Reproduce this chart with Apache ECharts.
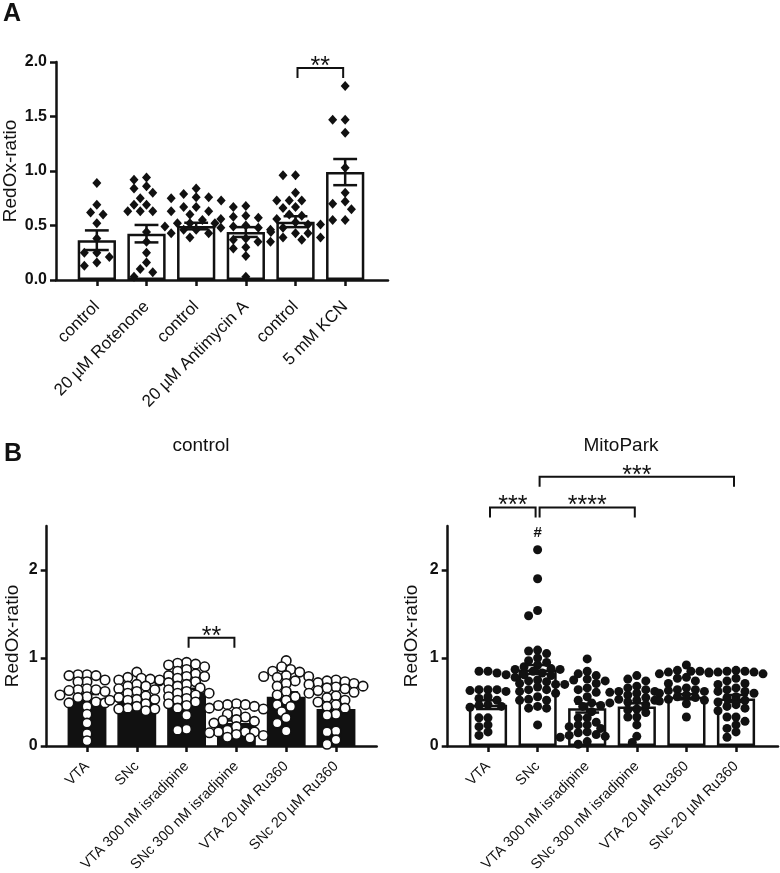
<!DOCTYPE html>
<html><head><meta charset="utf-8">
<script src="https://cdn.jsdelivr.net/npm/echarts@6/dist/echarts.min.js"></script>
<style>html,body{margin:0;padding:0;background:#fff}#c{width:780px;height:873px}</style>
</head><body><div id="c"></div>
<script>
// ---------------- DATA ----------------
const aLabels = ['control', '20 µM Rotenone', 'control', '20 µM Antimycin A', 'control', '5 mM KCN'];
const aMeans = [0.365, 0.425, 0.495, 0.44, 0.535, 0.99];
const aSem = [0.09, 0.08, 0.03, 0.045, 0.05, 0.12];
const aControl1 = [0.89, 0.69, 0.62, 0.60, 0.52, 0.38, 0.25, 0.25, 0.21, 0.16, 0.13];
const aRotenone = [0.94, 0.92, 0.86, 0.84, 0.80, 0.75, 0.69, 0.69, 0.63, 0.63, 0.63, 0.44, 0.35, 0.25, 0.16, 0.10, 0.07, 0.03];
const aControl2 = [0.84, 0.79, 0.76, 0.76, 0.75, 0.73, 0.67, 0.67, 0.63, 0.63, 0.60, 0.55, 0.52, 0.52, 0.52, 0.49, 0.46, 0.46, 0.43, 0.43, 0.39];
const aAntimycin = [0.68, 0.67, 0.59, 0.58, 0.57, 0.56, 0.50, 0.49, 0.48, 0.48, 0.44, 0.38, 0.37, 0.30, 0.29, 0.22, 0.03];
const aControl3 = [0.96, 0.96, 0.80, 0.73, 0.73, 0.73, 0.67, 0.66, 0.60, 0.59, 0.56, 0.53, 0.51, 0.51, 0.48, 0.46, 0.43, 0.43, 0.39, 0.39, 0.37, 0.35, 0.35];
const aKCN = [1.78, 1.47, 1.47, 1.35, 1.03, 0.80, 0.72, 0.70, 0.65, 0.55, 0.55];
const aYTicks = [0, 0.5, 1.0, 1.5, 2.0];
const aBrackets = [[4, 5, 1.945]];
const aBracketText = ['**'];

const bLabels = ['VTA', 'SNc', 'VTA 300 nM isradipine', 'SNc 300 nM isradipine', 'VTA 20 µM Ru360', 'SNc 20 µM Ru360'];
const bYTicks = [0, 1, 2];

const ctrlMeans = [0.54, 0.52, 0.61, 0.26, 0.56, 0.42];
const ctrlSem = [0.05, 0.03, 0.04, 0.03, 0.05, 0.05];
const ctrlVTA = [0.81, 0.81, 0.80, 0.80, 0.75, 0.73, 0.73, 0.65, 0.64, 0.64, 0.63, 0.62, 0.58, 0.56, 0.55, 0.50, 0.49, 0.49, 0.45, 0.36, 0.26, 0.14, 0.06];
const ctrlSNc = [0.84, 0.78, 0.77, 0.76, 0.75, 0.74, 0.70, 0.68, 0.68, 0.65, 0.64, 0.62, 0.60, 0.57, 0.55, 0.53, 0.53, 0.52, 0.52, 0.48, 0.45, 0.43, 0.42, 0.42, 0.40];
const ctrlVTAisr = [0.95, 0.94, 0.93, 0.92, 0.90, 0.87, 0.85, 0.82, 0.80, 0.79, 0.79, 0.77, 0.75, 0.73, 0.72, 0.70, 0.68, 0.66, 0.64, 0.62, 0.60, 0.60, 0.58, 0.56, 0.54, 0.52, 0.50, 0.48, 0.46, 0.43, 0.35, 0.19, 0.18];
const ctrlSNcisr = [0.48, 0.47, 0.47, 0.46, 0.45, 0.43, 0.42, 0.38, 0.36, 0.33, 0.30, 0.29, 0.28, 0.26, 0.22, 0.18, 0.16, 0.16, 0.16, 0.15, 0.13, 0.12, 0.10, 0.09];
const ctrlVTAru = [0.97, 0.90, 0.87, 0.85, 0.84, 0.80, 0.79, 0.79, 0.78, 0.74, 0.71, 0.68, 0.62, 0.58, 0.56, 0.52, 0.47, 0.45, 0.39, 0.32, 0.26, 0.17];
const ctrlSNcru = [0.75, 0.74, 0.73, 0.72, 0.71, 0.70, 0.68, 0.67, 0.66, 0.65, 0.63, 0.61, 0.60, 0.57, 0.55, 0.52, 0.50, 0.47, 0.45, 0.43, 0.36, 0.35, 0.17, 0.16, 0.07, 0.02];
const ctrlBrackets = [[2, 3, 1.23]];
const ctrlBracketText = ['**'];

const mpMeans = [0.47, 0.87, 0.43, 0.45, 0.56, 0.54];
const mpSem = [0.05, 0.05, 0.05, 0.035, 0.03, 0.04];
const mpVTA = [0.85, 0.85, 0.83, 0.64, 0.64, 0.64, 0.63, 0.62, 0.56, 0.54, 0.52, 0.47, 0.46, 0.45, 0.44, 0.32, 0.32, 0.24, 0.22, 0.16, 0.12];
const mpSNc = [2.23, 1.90, 1.54, 1.48, 1.09, 1.08, 1.05, 1.00, 0.97, 0.95, 0.92, 0.90, 0.88, 0.87, 0.87, 0.85, 0.83, 0.81, 0.81, 0.80, 0.78, 0.75, 0.74, 0.73, 0.71, 0.70, 0.67, 0.64, 0.64, 0.62, 0.60, 0.56, 0.53, 0.52, 0.52, 0.45, 0.43, 0.43, 0.24];
const mpVTAisr = [0.99, 0.85, 0.82, 0.80, 0.76, 0.75, 0.74, 0.71, 0.70, 0.66, 0.64, 0.61, 0.56, 0.52, 0.49, 0.46, 0.45, 0.39, 0.32, 0.32, 0.27, 0.24, 0.24, 0.22, 0.20, 0.16, 0.15, 0.13, 0.12, 0.11, 0.10, 0.05, 0.02];
const mpSNcisr = [0.80, 0.76, 0.74, 0.68, 0.66, 0.64, 0.62, 0.62, 0.61, 0.60, 0.58, 0.55, 0.53, 0.52, 0.52, 0.50, 0.49, 0.47, 0.42, 0.41, 0.38, 0.33, 0.33, 0.24, 0.11, 0.04];
const mpVTAru = [0.92, 0.86, 0.85, 0.85, 0.84, 0.84, 0.82, 0.78, 0.77, 0.74, 0.71, 0.66, 0.64, 0.64, 0.63, 0.62, 0.60, 0.58, 0.56, 0.55, 0.53, 0.52, 0.51, 0.48, 0.33];
const mpSNcru = [0.86, 0.85, 0.85, 0.84, 0.84, 0.83, 0.82, 0.77, 0.74, 0.71, 0.70, 0.66, 0.64, 0.62, 0.62, 0.60, 0.56, 0.55, 0.52, 0.50, 0.47, 0.45, 0.43, 0.40, 0.33, 0.33, 0.28, 0.24, 0.20, 0.16, 0.10];
const mpBrackets = [[0, 1, 2.71], [1, 3, 2.71], [1, 5, 3.06]];
const mpBracketText = ['***', '****', '***'];
const mpHashGroups = [1];

// ---------------- LAYOUT / STYLE ----------------
const FONT = '"Liberation Sans", Arial, Helvetica, sans-serif';
const INK = '#111';
const A_H = 218, A_MAX = 2.0;
const B_H = 220, B_MAX = 2.5;

function swarmOffsets(vals, pxPerUnit, diam, step) {
  const order = vals.map((v, i) => i).sort((p, q) => vals[q] - vals[p]);
  const placed = [];
  const off = new Array(vals.length).fill(0);
  order.forEach(i => {
    const y = vals[i] * pxPerUnit;
    for (let k = 0; k < 60; k++) {
      const m = Math.ceil(k / 2) * (k % 2 ? -1 : 1);
      const x = m * step / 2;
      if (placed.every(p => (p.x - x) * (p.x - x) + (p.y - y) * (p.y - y) >= diam * diam)) {
        placed.push({x, y}); off[i] = x; break;
      }
    }
  });
  return off;
}
function scatterData(groups, pxPerUnit, diam, step) {
  const out = [];
  groups.forEach((g, i) => {
    const off = swarmOffsets(g, pxPerUnit, diam, step);
    g.forEach((v, k) => out.push({value: [i, v], symbolOffset: [off[k], 0]}));
  });
  return out;
}
function errSeries(xi, means, sem, lw) {
  return {
    type: 'custom', xAxisIndex: xi, yAxisIndex: xi, z: 5, silent: true,
    data: means.map((m, i) => [i, m, sem[i]]), encode: {x: 0, y: 1},
    renderItem: (params, api) => {
      const i = api.value(0), m = api.value(1), s = api.value(2);
      const t = api.coord([i, m + s]), b = api.coord([i, m - s]);
      const hw = api.size([1, 0])[0] * 0.24;
      const st = {stroke: INK, lineWidth: lw};
      return {type: 'group', children: [
        {type: 'line', shape: {x1: t[0], y1: t[1], x2: b[0], y2: b[1]}, style: st},
        {type: 'line', shape: {x1: t[0] - hw, y1: t[1], x2: t[0] + hw, y2: t[1]}, style: st},
        {type: 'line', shape: {x1: b[0] - hw, y1: b[1], x2: b[0] + hw, y2: b[1]}, style: st}
      ]};
    }
  };
}
function bracketSeries(xi, brackets, texts) {
  return {
    type: 'custom', xAxisIndex: xi, yAxisIndex: xi, z: 7, clip: false, silent: true,
    data: brackets, encode: {x: [0, 1], y: 2},
    renderItem: (params, api) => {
      const a = api.coord([api.value(0), api.value(2)]);
      const b = api.coord([api.value(1), api.value(2)]);
      const x1 = a[0] + 2, x2 = b[0] - 2, y = a[1];
      return {type: 'group', children: [
        {type: 'polyline', shape: {points: [[x1, y + 10], [x1, y], [x2, y], [x2, y + 10]]},
          style: {stroke: INK, lineWidth: 2, fill: null}},
        {type: 'text', style: {text: texts[params.dataIndex], x: (x1 + x2) / 2, y: y - 1,
          align: 'center', verticalAlign: 'middle', fontSize: 25, fontFamily: FONT, fill: INK}}
      ]};
    }
  };
}
function hashSeries(xi, groupIdx, groups) {
  return {
    type: 'custom', xAxisIndex: xi, yAxisIndex: xi, z: 7, clip: false, silent: true,
    data: groupIdx.map(i => [i, Math.max(...groups[i])]), encode: {x: 0, y: 1},
    renderItem: (params, api) => {
      const p = api.coord([api.value(0), api.value(1)]);
      return {type: 'text', style: {text: '#', x: p[0], y: p[1] - 17, align: 'center', verticalAlign: 'middle',
        fontSize: 15, fontWeight: 'bold', fontFamily: FONT, fill: INK}};
    }
  };
}
const lineSt = {color: INK, width: 2.5};
function frameX(gi) {
  return {gridIndex: gi, type: 'value', min: 0, max: 1, axisLine: {show: true, onZero: false, lineStyle: lineSt},
    axisTick: {show: false}, axisLabel: {show: false}, splitLine: {show: false}};
}
function catX(gi, labels, rotate, fontSize, margin) {
  return {gridIndex: gi, type: 'category', data: labels.map((l, i) => 'c' + i),
    axisLine: {show: false}, axisTick: {show: true, alignWithLabel: true, length: 6, lineStyle: lineSt},
    axisLabel: {interval: 0, rotate: rotate, margin: margin, fontSize: fontSize, color: INK,
      fontFamily: FONT, formatter: (v, i) => labels[i]}};
}
function frameY(gi, max, ticks, fmt, fontSize, nameGap) {
  return {gridIndex: gi, type: 'value', min: 0, max: max,
    axisLine: {show: true, onZero: false, lineStyle: lineSt},
    axisTick: {show: true, length: 6, lineStyle: lineSt, customValues: ticks},
    axisLabel: {fontSize: fontSize, fontWeight: 'bold', color: INK, fontFamily: FONT, margin: 9,
      customValues: ticks, formatter: fmt},
    splitLine: {show: false},
    name: 'RedOx-ratio', nameLocation: 'middle', nameGap: nameGap,
    nameTextStyle: {fontSize: 19, color: INK, fontFamily: FONT}};
}
function hiddenY(gi, max) { return {gridIndex: gi, type: 'value', min: 0, max: max, show: false}; }
function grid(left, top, width, height) {
  return {left, top, width, height, containLabel: false, outerBoundsMode: 'none'};
}

const chart = echarts.init(document.getElementById('c'), null, {renderer: 'canvas', width: 780, height: 873});
chart.setOption({
  animation: false,
  backgroundColor: '#fff',
  graphic: [
    {type: 'text', x: 3, y: 14, style: {text: 'A', fontSize: 25, fontWeight: 'bold', fontFamily: FONT, fill: INK, verticalAlign: 'middle'}},
    {type: 'text', x: 4, y: 454, style: {text: 'B', fontSize: 25, fontWeight: 'bold', fontFamily: FONT, fill: INK, verticalAlign: 'middle'}},
    {type: 'text', x: 201, y: 446, style: {text: 'control', fontSize: 19, fontFamily: FONT, fill: INK, align: 'center', verticalAlign: 'middle'}},
    {type: 'text', x: 621, y: 446, style: {text: 'MitoPark', fontSize: 19, fontFamily: FONT, fill: INK, align: 'center', verticalAlign: 'middle'}}
  ],
  grid: [
    grid(56, 62, 332, A_H),
    grid(72, 62, 298, A_H),
    grid(46.7, 526, 330, B_H),
    grid(62.1, 526, 298.8, B_H),
    grid(447.7, 526, 330.3, B_H),
    grid(463.2, 526, 297.6, B_H)
  ],
  xAxis: [
    frameX(0), catX(1, aLabels, 45, 17, 24),
    frameX(2), catX(3, bLabels, 45, 14.5, 18),
    frameX(4), catX(5, bLabels, 45, 14.5, 18)
  ],
  yAxis: [
    frameY(0, A_MAX, aYTicks, v => v.toFixed(1), 16, 36), hiddenY(1, A_MAX),
    frameY(2, B_MAX, bYTicks, v => String(v), 16, 24), hiddenY(3, B_MAX),
    frameY(4, B_MAX, bYTicks, v => String(v), 16, 26), hiddenY(5, B_MAX)
  ],
  series: [
    {type: 'bar', xAxisIndex: 1, yAxisIndex: 1, data: aMeans, barWidth: '77%', z: 2, silent: true,
      itemStyle: {color: '#fff', borderColor: INK, borderWidth: 2.5}},
    {type: 'scatter', xAxisIndex: 1, yAxisIndex: 1, z: 4, silent: true, symbol: 'diamond', symbolSize: [9, 10],
      itemStyle: {color: INK, opacity: 1},
      data: scatterData([aControl1, aRotenone, aControl2, aAntimycin, aControl3, aKCN], A_H / A_MAX, 8.5, 12.5)},
    errSeries(1, aMeans, aSem, 2.5),
    bracketSeries(1, aBrackets, aBracketText),

    {type: 'bar', xAxisIndex: 3, yAxisIndex: 3, data: ctrlMeans, barWidth: '78%', z: 2, silent: true,
      itemStyle: {color: INK, borderColor: INK, borderWidth: 2}},
    errSeries(3, ctrlMeans, ctrlSem, 2.5),
    {type: 'scatter', xAxisIndex: 3, yAxisIndex: 3, z: 6, silent: true, symbol: 'circle', symbolSize: 9.5,
      itemStyle: {color: '#fff', borderColor: INK, borderWidth: 1.6, opacity: 1},
      data: scatterData([ctrlVTA, ctrlSNc, ctrlVTAisr, ctrlSNcisr, ctrlVTAru, ctrlSNcru], B_H / B_MAX, 7, 9)},
    bracketSeries(3, ctrlBrackets, ctrlBracketText),

    {type: 'bar', xAxisIndex: 5, yAxisIndex: 5, data: mpMeans, barWidth: '77%', z: 2, silent: true,
      itemStyle: {color: '#fff', borderColor: INK, borderWidth: 2.5}},
    {type: 'scatter', xAxisIndex: 5, yAxisIndex: 5, z: 4, silent: true, symbol: 'circle', symbolSize: 9,
      itemStyle: {color: INK, opacity: 1},
      data: scatterData([mpVTA, mpSNc, mpVTAisr, mpSNcisr, mpVTAru, mpSNcru], B_H / B_MAX, 7, 9)},
    errSeries(5, mpMeans, mpSem, 2.5),
    bracketSeries(5, mpBrackets, mpBracketText),
    hashSeries(5, mpHashGroups, [mpVTA, mpSNc, mpVTAisr, mpSNcisr, mpVTAru, mpSNcru])
  ]
});
</script></body></html>
